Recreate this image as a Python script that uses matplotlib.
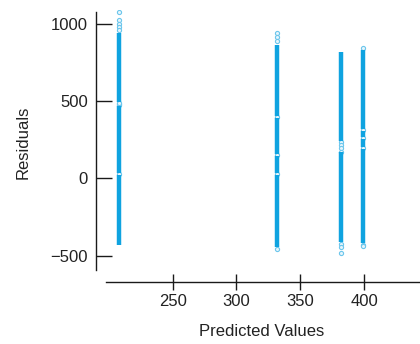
import matplotlib
matplotlib.use("Agg")
import matplotlib.pyplot as plt

# Predicted value for each column
predicted = [207.9, 331.8, 381.7, 399.5]

# Dense runs of residuals (low, high) for each column
dense_1 = [(-431, 22), (34, 470), (494, 940)]
dense_2 = [(-444, 22), (34, 145), (157, 390), (402, 862)]
dense_3 = [(-410, 167), (243, 819)]
dense_4 = [(-418, 192), (200, 257), (266, 307), (317, 830)]

# Sparse residuals (drawn as open circles)
sparse_1 = [1074, 1024, 998, 978, 959, 475, 482, 489, 28]
sparse_2 = [940, 914, 888, 396, 151, 28, -457]
sparse_3 = [237, 215, 195, 172, -425, -444, -483]
sparse_4 = [845, 312, 261, 196, -431, -438]

dense = [dense_1, dense_2, dense_3, dense_4]
sparse = [sparse_1, sparse_2, sparse_3, sparse_4]

x_ticks = [250, 300, 350, 400]
y_ticks = [-500, 0, 500, 1000]

BLUE = "#0fa3e0"

plt.rcParams['font.family'] = ['Liberation Sans', 'DejaVu Sans']

fig = plt.figure(figsize=(4.2, 3.44), dpi=100)
ax = fig.add_axes([96/420, 1 - 282/344, 1 - 96/420, (282 - 10)/344])

for x, runs in zip(predicted, dense):
    for lo, hi in runs:
        ax.vlines(x, lo, hi, colors=BLUE, linewidth=3.2, capstyle='butt', zorder=3)
for x, vals in zip(predicted, sparse):
    ax.scatter([x] * len(vals), vals, s=9, facecolors='#e6f5fc', edgecolors="#6cc6ec",
               linewidths=0.8, zorder=2)

ax.set_xlim(189.9, 443.9)
ax.set_ylim(-670.7, 1088.6)

for s in ['top', 'right']:
    ax.spines[s].set_visible(False)
ax.spines['left'].set_bounds(-593, 1075)
ax.spines['bottom'].set_bounds(197.7, 443.9)
for s in ['left', 'bottom']:
    ax.spines[s].set_linewidth(1.0)
    ax.spines[s].set_color('#1a1a1a')

ax.set_xticks(x_ticks)
ax.set_yticks(y_ticks)
ax.tick_params(axis='y', direction='in', length=11.5, width=1.0, color='#1a1a1a',
               pad=5.8, labelsize=12, labelcolor='#222222')
ax.tick_params(axis='x', direction='inout', length=11.5, width=1.0, color='#1a1a1a',
               pad=3, labelsize=12, labelcolor='#222222')

fig.text(262/420, 1 - 331/344, "Predicted Values", ha='center', va='center',
         fontsize=12, color='#222222')
fig.text(23/420, 1 - 142/344, "Residuals", ha='center', va='center',
         rotation=90, fontsize=12, color='#222222')

fig.savefig("out.png", dpi=100)
